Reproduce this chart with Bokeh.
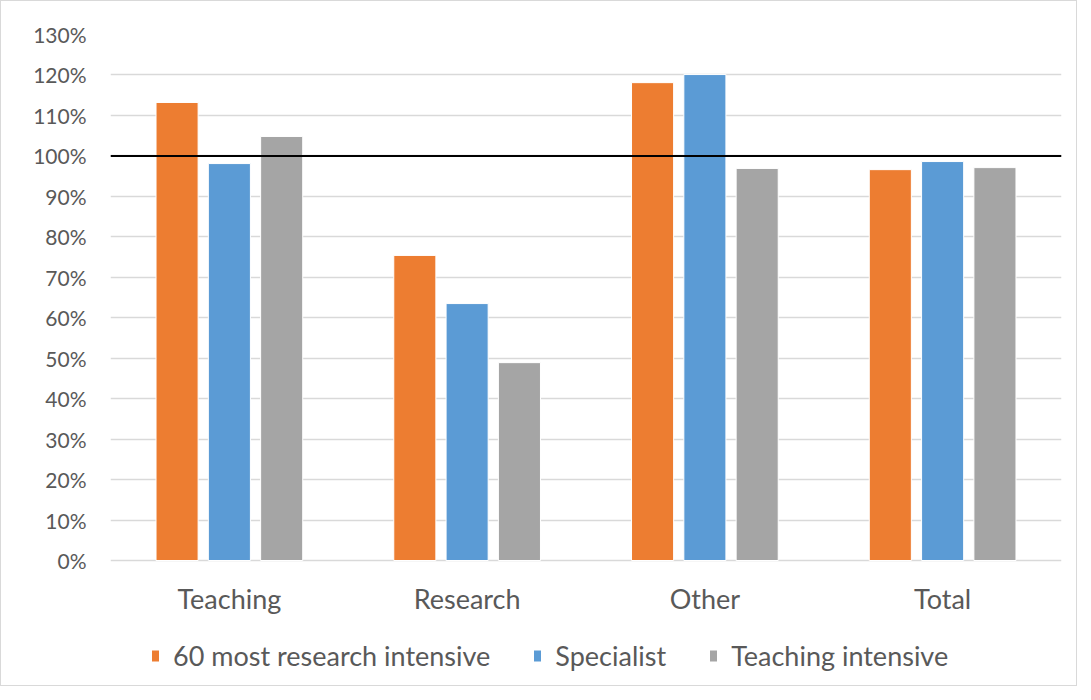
from bokeh.plotting import figure
from bokeh.models import (ColumnDataSource, FactorRange, Range1d, FixedTicker,
                          NumeralTickFormatter, Span, Legend, LegendItem)
from bokeh.core.properties import value
from bokeh.transform import dodge
from bokeh.embed import file_html
from bokeh.resources import INLINE

categories = ["Teaching", "Research", "Other", "Total"]
series_names = ["60 most research intensive", "Specialist", "Teaching intensive"]
research_intensive = [1.132, 0.754, 1.181, 0.966]
specialist = [0.981, 0.635, 1.201, 0.986]
teaching_intensive = [1.048, 0.489, 0.969, 0.971]
y_ticks = [0.0, 0.1, 0.2, 0.3, 0.4, 0.5, 0.6, 0.7, 0.8, 0.9, 1.0, 1.1, 1.2, 1.3]
reference_level = 1.0

colors = ["#ED7D31", "#5B9BD5", "#A5A5A5"]
FONT = "Lato"
TEXT_COLOR = "#595959"

# frame: 0% sits 125px above the frame bottom, 130% at the top
FRAME_H = 651
PLOT_H = 526
y_min = -1.3 * (FRAME_H - PLOT_H) / PLOT_H

src = ColumnDataSource(dict(cat=categories, a=research_intensive,
                            b=specialist, c=teaching_intensive))

p = figure(x_range=FactorRange(*categories, range_padding=0),
           y_range=Range1d(y_min, 1.3),
           frame_width=951, frame_height=FRAME_H,
           output_backend="svg", toolbar_location=None,
           min_border_left=109, min_border_right=15, min_border_top=33,
           min_border_bottom=0)

renderers = []
for key, off, col in zip(["a", "b", "c"], [-0.22, 0.0, 0.22], colors):
    r = p.vbar(x=dodge("cat", off, range=p.x_range), top=key, width=0.177,
               source=src, fill_color=col, line_color="white", line_width=1)
    renderers.append(r)

p.add_layout(Span(location=reference_level, dimension="width",
                  line_color="black", line_width=2))

# category labels under the 0% baseline
lab = ColumnDataSource(dict(cat=categories, y=[-0.094] * len(categories)))
p.text(x="cat", y="y", text="cat", source=lab, text_align="center",
       text_baseline="middle", text_font=value(FONT),
       text_font_size="27px", text_color=TEXT_COLOR)

p.yaxis.ticker = FixedTicker(ticks=y_ticks)
p.yaxis.formatter = NumeralTickFormatter(format="0%")
p.yaxis.axis_line_color = None
p.yaxis.major_tick_line_color = None
p.yaxis.minor_tick_line_color = None
p.yaxis.major_label_text_font = FONT
p.yaxis.major_label_text_font_size = "21px"
p.yaxis.major_label_text_color = TEXT_COLOR
p.yaxis.major_label_standoff = 18

p.xaxis.visible = False

p.xgrid.grid_line_color = None
p.ygrid.grid_line_color = "#d9d9d9"
p.ygrid.grid_line_width = 1.5
p.outline_line_color = None

legend = Legend(items=[LegendItem(label=n, renderers=[r])
                       for n, r in zip(series_names, renderers)],
                orientation="horizontal", location=(40, 13),
                label_text_font=FONT, label_text_font_size="27px",
                label_text_color=TEXT_COLOR, glyph_width=10, glyph_height=15,
                spacing=42, label_standoff=13, border_line_color=None,
                background_fill_alpha=0, margin=0, padding=0)
p.add_layout(legend, "center")

p.styles = {"border": "1px solid #d9d9d9"}

open("out.html", "w").write(file_html(p, INLINE))
